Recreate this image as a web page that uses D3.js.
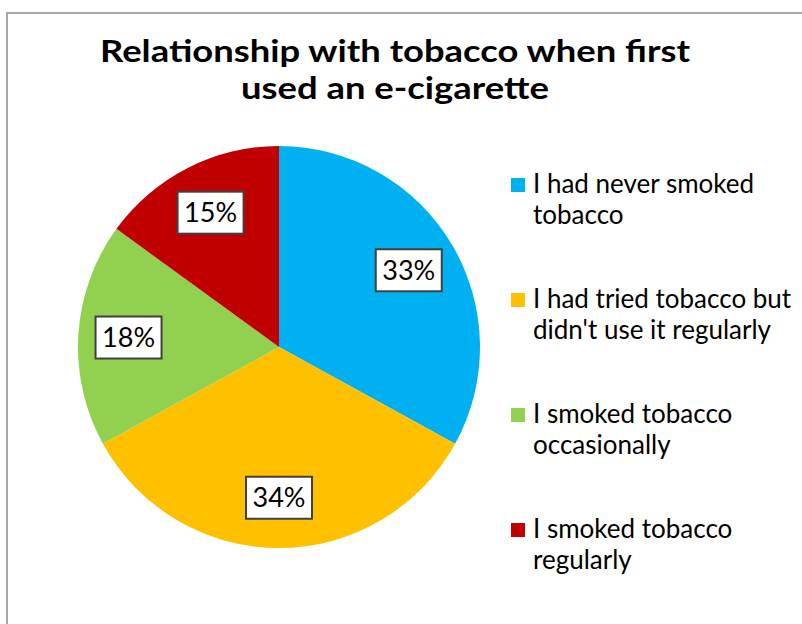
<!DOCTYPE html>
<html><head><meta charset="utf-8">
<script src="https://cdn.jsdelivr.net/npm/d3@7"></script>
<style>html,body{margin:0;padding:0;background:#fff;}svg{display:block;}</style>
</head><body>
<script>
const categories = ["I had never smoked tobacco", "I had tried tobacco but didn't use it regularly", "I smoked tobacco occasionally", "I smoked tobacco regularly"];
const legendLines = [["I had never smoked", "tobacco"], ["I had tried tobacco but", "didn't use it regularly"], ["I smoked tobacco", "occasionally"], ["I smoked tobacco", "regularly"]];
const values = [33, 34, 18, 15];
const colors = ["#00B0F0", "#FFC000", "#92D050", "#C00000"];
const titleLines = ["Relationship with tobacco when first", "used an e-cigarette"];

const W = 802, H = 624;
const font = "Lato, 'Open Sans', sans-serif";
const svg = d3.select("body").append("svg").attr("width", W).attr("height", H);
svg.append("rect").attr("width", W).attr("height", H).attr("fill", "#fff");
// chart border
svg.append("rect").attr("x", 7).attr("y", 13).attr("width", W + 10).attr("height", H + 10)
  .attr("fill", "none").attr("stroke", "#8c8c8c").attr("stroke-width", 1.5);

// title
const titleWidths = [590, 308];
svg.append("g").selectAll("text").data(titleLines).join("text")
  .attr("x", 395).attr("y", (d, i) => 62 + i * 37)
  .attr("text-anchor", "middle").attr("font-family", font).attr("font-weight", "bold")
  .attr("font-size", 30).attr("fill", "#000")
  .attr("textLength", (d, i) => titleWidths[i]).attr("lengthAdjust", "spacingAndGlyphs")
  .text(d => d);

const cx = 279, cy = 347, r = 201;
const pie = d3.pie().sort(null).value(d => d)(values);
const arc = d3.arc().innerRadius(0).outerRadius(r);
const g = svg.append("g").attr("transform", `translate(${cx},${cy})`);
g.selectAll("path").data(pie).join("path").attr("d", arc).attr("fill", (d, i) => colors[i]);

const labelArc = d3.arc().innerRadius(r * 0.75).outerRadius(r * 0.75);
const lab = g.selectAll("g.lab").data(pie).join("g").attr("class", "lab")
  .attr("transform", d => `translate(${labelArc.centroid(d)})`);
lab.append("rect").attr("x", -33).attr("y", -21).attr("width", 66).attr("height", 42)
  .attr("fill", "#fff").attr("stroke", "#404040").attr("stroke-width", 2);
lab.append("text").attr("text-anchor", "middle").attr("dy", "0.36em")
  .attr("font-family", font).attr("font-size", 27).attr("fill", "#000")
  .text(d => d.value + "%");

// legend
const lg = svg.append("g").selectAll("g").data(categories).join("g")
  .attr("transform", (d, i) => `translate(511, ${185 + i * 115})`);
lg.append("rect").attr("x", 0).attr("y", -7).attr("width", 14).attr("height", 14)
  .attr("fill", (d, i) => colors[i]);
lg.append("text").attr("x", 22).attr("y", 8).attr("font-family", font).attr("font-size", 26)
  .attr("fill", "#000")
  .selectAll("tspan").data((d, i) => legendLines[i]).join("tspan")
  .attr("x", 22).attr("dy", (d, j) => j === 0 ? 0 : 31).text(d => d);
</script>
</body></html>
